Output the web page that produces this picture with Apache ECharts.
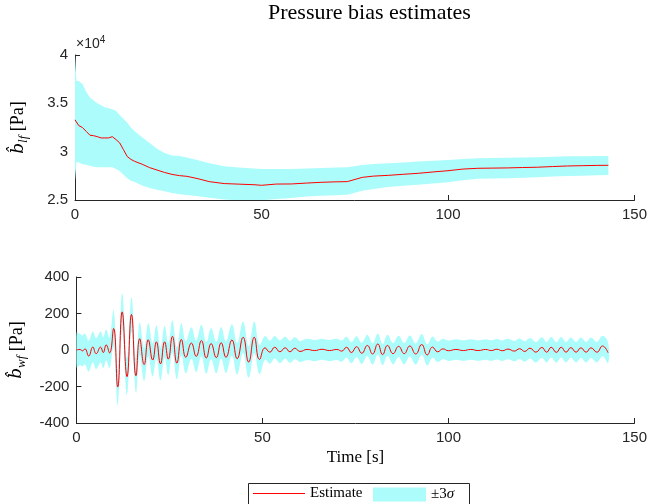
<!DOCTYPE html>
<html><head><meta charset="utf-8">
<script src="https://cdn.jsdelivr.net/npm/echarts@6/dist/echarts.min.js"></script>
<style>html,body{margin:0;padding:0;background:#fff}#c{width:650px;height:504px}</style>
</head><body><div id="c"></div>
<script>
// ---- top panel: low-frequency bias (x 10^4 Pa) ----
const tTop = [0,0.4,1,2,3,4,5,6,7,8,9,10,11,12,13,14,15,16,18,20,22,24,26,28,30,33,36,40,44,48,50,54,58,62,66,70,73,77,80,84,88,92,96,100,104,108,112,116,120,124,128,132,136,140,143];
const estTop = [3.33,3.325,3.27,3.25,3.21,3.17,3.165,3.155,3.142,3.142,3.142,3.155,3.125,3.09,3.02,2.95,2.92,2.90,2.87,2.835,2.81,2.785,2.765,2.752,2.745,2.72,2.69,2.67,2.664,2.658,2.652,2.665,2.666,2.675,2.683,2.688,2.69,2.734,2.747,2.755,2.766,2.776,2.79,2.803,2.82,2.828,2.83,2.832,2.836,2.839,2.846,2.852,2.855,2.858,2.859];
const upTop = [4.0,3.73,3.73,3.70,3.62,3.56,3.53,3.50,3.48,3.46,3.45,3.44,3.42,3.38,3.34,3.30,3.25,3.21,3.15,3.09,3.03,2.985,2.96,2.955,2.94,2.91,2.88,2.85,2.835,2.825,2.82,2.82,2.82,2.825,2.831,2.835,2.838,2.862,2.872,2.881,2.889,2.897,2.905,2.914,2.925,2.932,2.934,2.936,2.939,2.942,2.947,2.952,2.953,2.954,2.955];
const loTop = [2.70,2.89,2.89,2.87,2.865,2.855,2.845,2.84,2.84,2.84,2.84,2.84,2.82,2.80,2.76,2.725,2.70,2.685,2.65,2.625,2.605,2.59,2.572,2.56,2.553,2.54,2.522,2.505,2.495,2.495,2.497,2.51,2.52,2.535,2.545,2.55,2.555,2.595,2.615,2.635,2.647,2.659,2.671,2.683,2.705,2.719,2.723,2.726,2.731,2.735,2.742,2.748,2.752,2.756,2.759];

// ---- bottom panel: wave-frequency bias (Pa) ----
const tBot = [0,1.0,1.6,2.3,3.3,4.4,5.3,6.5,7.2,8.0,8.9,10.0,11.1,12.3,13.6,14.8,16.0,17.0,18.2,19.3,20.5,21.5,22.6,23.7,24.7,25.8,27.0,28.2,29.4,30.9,32.2,33.6,34.9,36.2,37.6,38.9,40.2,41.8,43.2,44.8,46.3,47.8,49.2,50.7,52.0,53.3,54.7,56.1,57.4,58.7,60.1,62,64,66,68,70,71.3,72.6,73.9,75.3,76.7,78.2,79.6,81.0,82.3,83.6,85.1,86.6,88.1,89.6,91.2,92.8,94.3,95.7,97.1,98.5,100,102,104,106,108,110,111.5,113,114.5,116,117.7,119.1,120.5,121.9,123.5,125.1,126.4,127.6,129.0,130.3,131.6,132.9,134.3,135.6,137.0,138.3,139.9,141.4,142.9];
const estBot = [0,3,-5,6,-33,16,-20,16,-14,28,-16,118,-203,209,-146,195,-141,62,-80,56,-55,45,-76,45,-50,75,-72,58,-40,38,-35,52,-44,35,-42,40,-40,55,-48,70,-66,70,-52,12,-12,15,-10,12,-10,10,-8,3,-3,4,-3,3,-6,15,-14,18,-18,25,-22,33,-25,25,-20,20,-20,22,-22,30,-27,16,-10,6,-4,3,-3,3,-3,3,-3,4,-4,5,-6,7,-8,10,-12,14,-12,15,-13,15,-12,13,-12,12,-12,12,-12,22,-15];
const sigBot = [95,85,85,85,85,85,85,85,85,85,85,100,100,102,100,95,95,90,90,90,90,90,90,88,88,88,88,88,88,86,86,86,86,86,86,86,86,86,86,86,86,86,80,65,63,62,62,60,60,60,58,58,58,58,58,58,58,58,58,58,58,58,58,58,58,58,58,58,58,58,58,58,58,58,56,56,56,56,56,56,56,56,56,56,56,56,56,56,56,56,56,56,56,56,56,56,56,56,56,56,56,56,56,56,56];

const xTicks = {min:0, max:150, interval:50};
const yTopTicks = {min:2.5, max:4, interval:0.5};
const yBotTicks = {min:-400, max:400, interval:200};

const BAND = '#adfcfc', RED = '#ff0000', AX = '#262626';
const pair = (t, v) => t.map((x, i) => [x, v[i]]);
const botUp = tBot.map((x, i) => estBot[i] + sigBot[i]);
const botLo = tBot.map((x, i) => estBot[i] - sigBot[i]);

function bandRenderer(t, up, lo, smooth) {
  return function (params, api) {
    if (params.dataIndex !== 0) return;
    const pts = [];
    for (let i = 0; i < t.length; i++) pts.push(api.coord([t[i], up[i]]));
    for (let i = t.length - 1; i >= 0; i--) pts.push(api.coord([t[i], lo[i]]));
    const cs = params.coordSys;
    return {
      type:'polygon', silent:true,
      shape:{points:pts, smooth:smooth},
      style:{fill:BAND, stroke:null},
      clipPath:{type:'rect', shape:{x:cs.x, y:cs.y, width:cs.width, height:cs.height}}
    };
  };
}

const axisBase = {
  type:'value',
  axisLine:{show:true, onZero:false, lineStyle:{color:AX, width:1}},
  axisTick:{show:true, inside:true, length:5, lineStyle:{color:AX}},
  axisLabel:{color:AX, fontFamily:'Liberation Sans', fontSize:15, margin:7},
  splitLine:{show:false}
};
const nameRich = {
  b:{fontFamily:'DejaVu Serif', fontStyle:'italic', fontSize:17, lineHeight:23, color:'#000'},
  s:{fontFamily:'Liberation Serif', fontStyle:'italic', fontSize:13, lineHeight:14, verticalAlign:'bottom', color:'#000'},
  n:{fontFamily:'Liberation Serif', fontSize:18, lineHeight:23, color:'#000'}
};

const chart = echarts.init(document.getElementById('c'), null, {renderer:'canvas'});
chart.setOption({
  animation:false,
  backgroundColor:'#fff',
  title:{text:'Pressure bias estimates', left:268, top:2, padding:0,
    textStyle:{fontFamily:'Liberation Serif', fontSize:22, fontWeight:'normal', color:'#000'}},
  grid:[
    {left:75, top:55, width:560, height:145},
    {left:75, top:277, width:560, height:146}
  ],
  xAxis:[
    Object.assign({}, axisBase, {gridIndex:0}, xTicks),
    Object.assign({}, axisBase, {gridIndex:1}, xTicks, {
      name:'Time [s]', nameLocation:'middle', nameGap:26,
      nameTextStyle:{fontFamily:'Liberation Serif', fontSize:17, color:'#000'}})
  ],
  yAxis:[
    Object.assign({}, axisBase, {gridIndex:0}, yTopTicks, {
      name:'{b|b\u0302}{s|lf}{n| [Pa]}', nameLocation:'middle', nameRotate:90, nameGap:45,
      nameTextStyle:{rich:nameRich}}),
    Object.assign({}, axisBase, {gridIndex:1}, yBotTicks, {
      name:'{b|b\u0302}{s|wf}{n| [Pa]}', nameLocation:'middle', nameRotate:90, nameGap:45,
      nameTextStyle:{rich:nameRich}})
  ],
  legend:[
    {data:[{name:'Estimate', icon:'rect', itemStyle:{color:RED}}], left:253, top:486, padding:0, itemWidth:52, itemHeight:1,
     textStyle:{fontFamily:'Liberation Serif', fontSize:15, color:'#000'}, selectedMode:false},
    {data:[{name:'\u00b13\u03c3', icon:'rect', itemStyle:{color:BAND}}], left:373, top:487, padding:0, itemWidth:53, itemHeight:14,
     formatter:()=>'\u00b13{i|\u03c3}',
     textStyle:{fontFamily:'Liberation Serif', fontSize:15, color:'#000',
       rich:{i:{fontFamily:'Liberation Serif', fontStyle:'italic', fontSize:15, color:'#000'}}}, selectedMode:false}
  ],
  graphic:[
    {type:'rect', left:248, top:483, z:-10, shape:{width:221, height:40},
     style:{fill:'#fff', stroke:AX, lineWidth:1}},
    {type:'text', left:76, top:35,
     style:{text:'{a|\u00d710}{sup|4}',
       rich:{a:{fontFamily:'Liberation Sans', fontSize:14, fill:AX, lineHeight:16, verticalAlign:'bottom'},
             sup:{fontFamily:'Liberation Sans', fontSize:10, fill:AX, lineHeight:10, verticalAlign:'top'}}}}
  ],
  series:[
    {name:'\u00b13\u03c3', type:'custom', xAxisIndex:0, yAxisIndex:0, clip:true,
     data:tTop.map((x, i) => [x, loTop[i], upTop[i]]), encode:{x:0, y:[1, 2]},
     itemStyle:{color:BAND}, renderItem:bandRenderer(tTop, upTop, loTop, 0), z:1, silent:true},
    {name:'Estimate', type:'line', xAxisIndex:0, yAxisIndex:0, data:pair(tTop, estTop),
     symbol:'none', lineStyle:{color:RED, width:1}, itemStyle:{color:RED}, z:5},
    {name:'\u00b13\u03c3', type:'custom', xAxisIndex:1, yAxisIndex:1, clip:true,
     data:tBot.map((x, i) => [x, botLo[i], botUp[i]]), encode:{x:0, y:[1, 2]},
     itemStyle:{color:BAND}, renderItem:bandRenderer(tBot, botUp, botLo, 0.4), z:1, silent:true},
    {name:'Estimate', type:'line', xAxisIndex:1, yAxisIndex:1, smooth:0.5, data:pair(tBot, estBot),
     symbol:'none', lineStyle:{color:RED, width:1}, itemStyle:{color:RED}, z:5}
  ]
});
</script></body></html>
